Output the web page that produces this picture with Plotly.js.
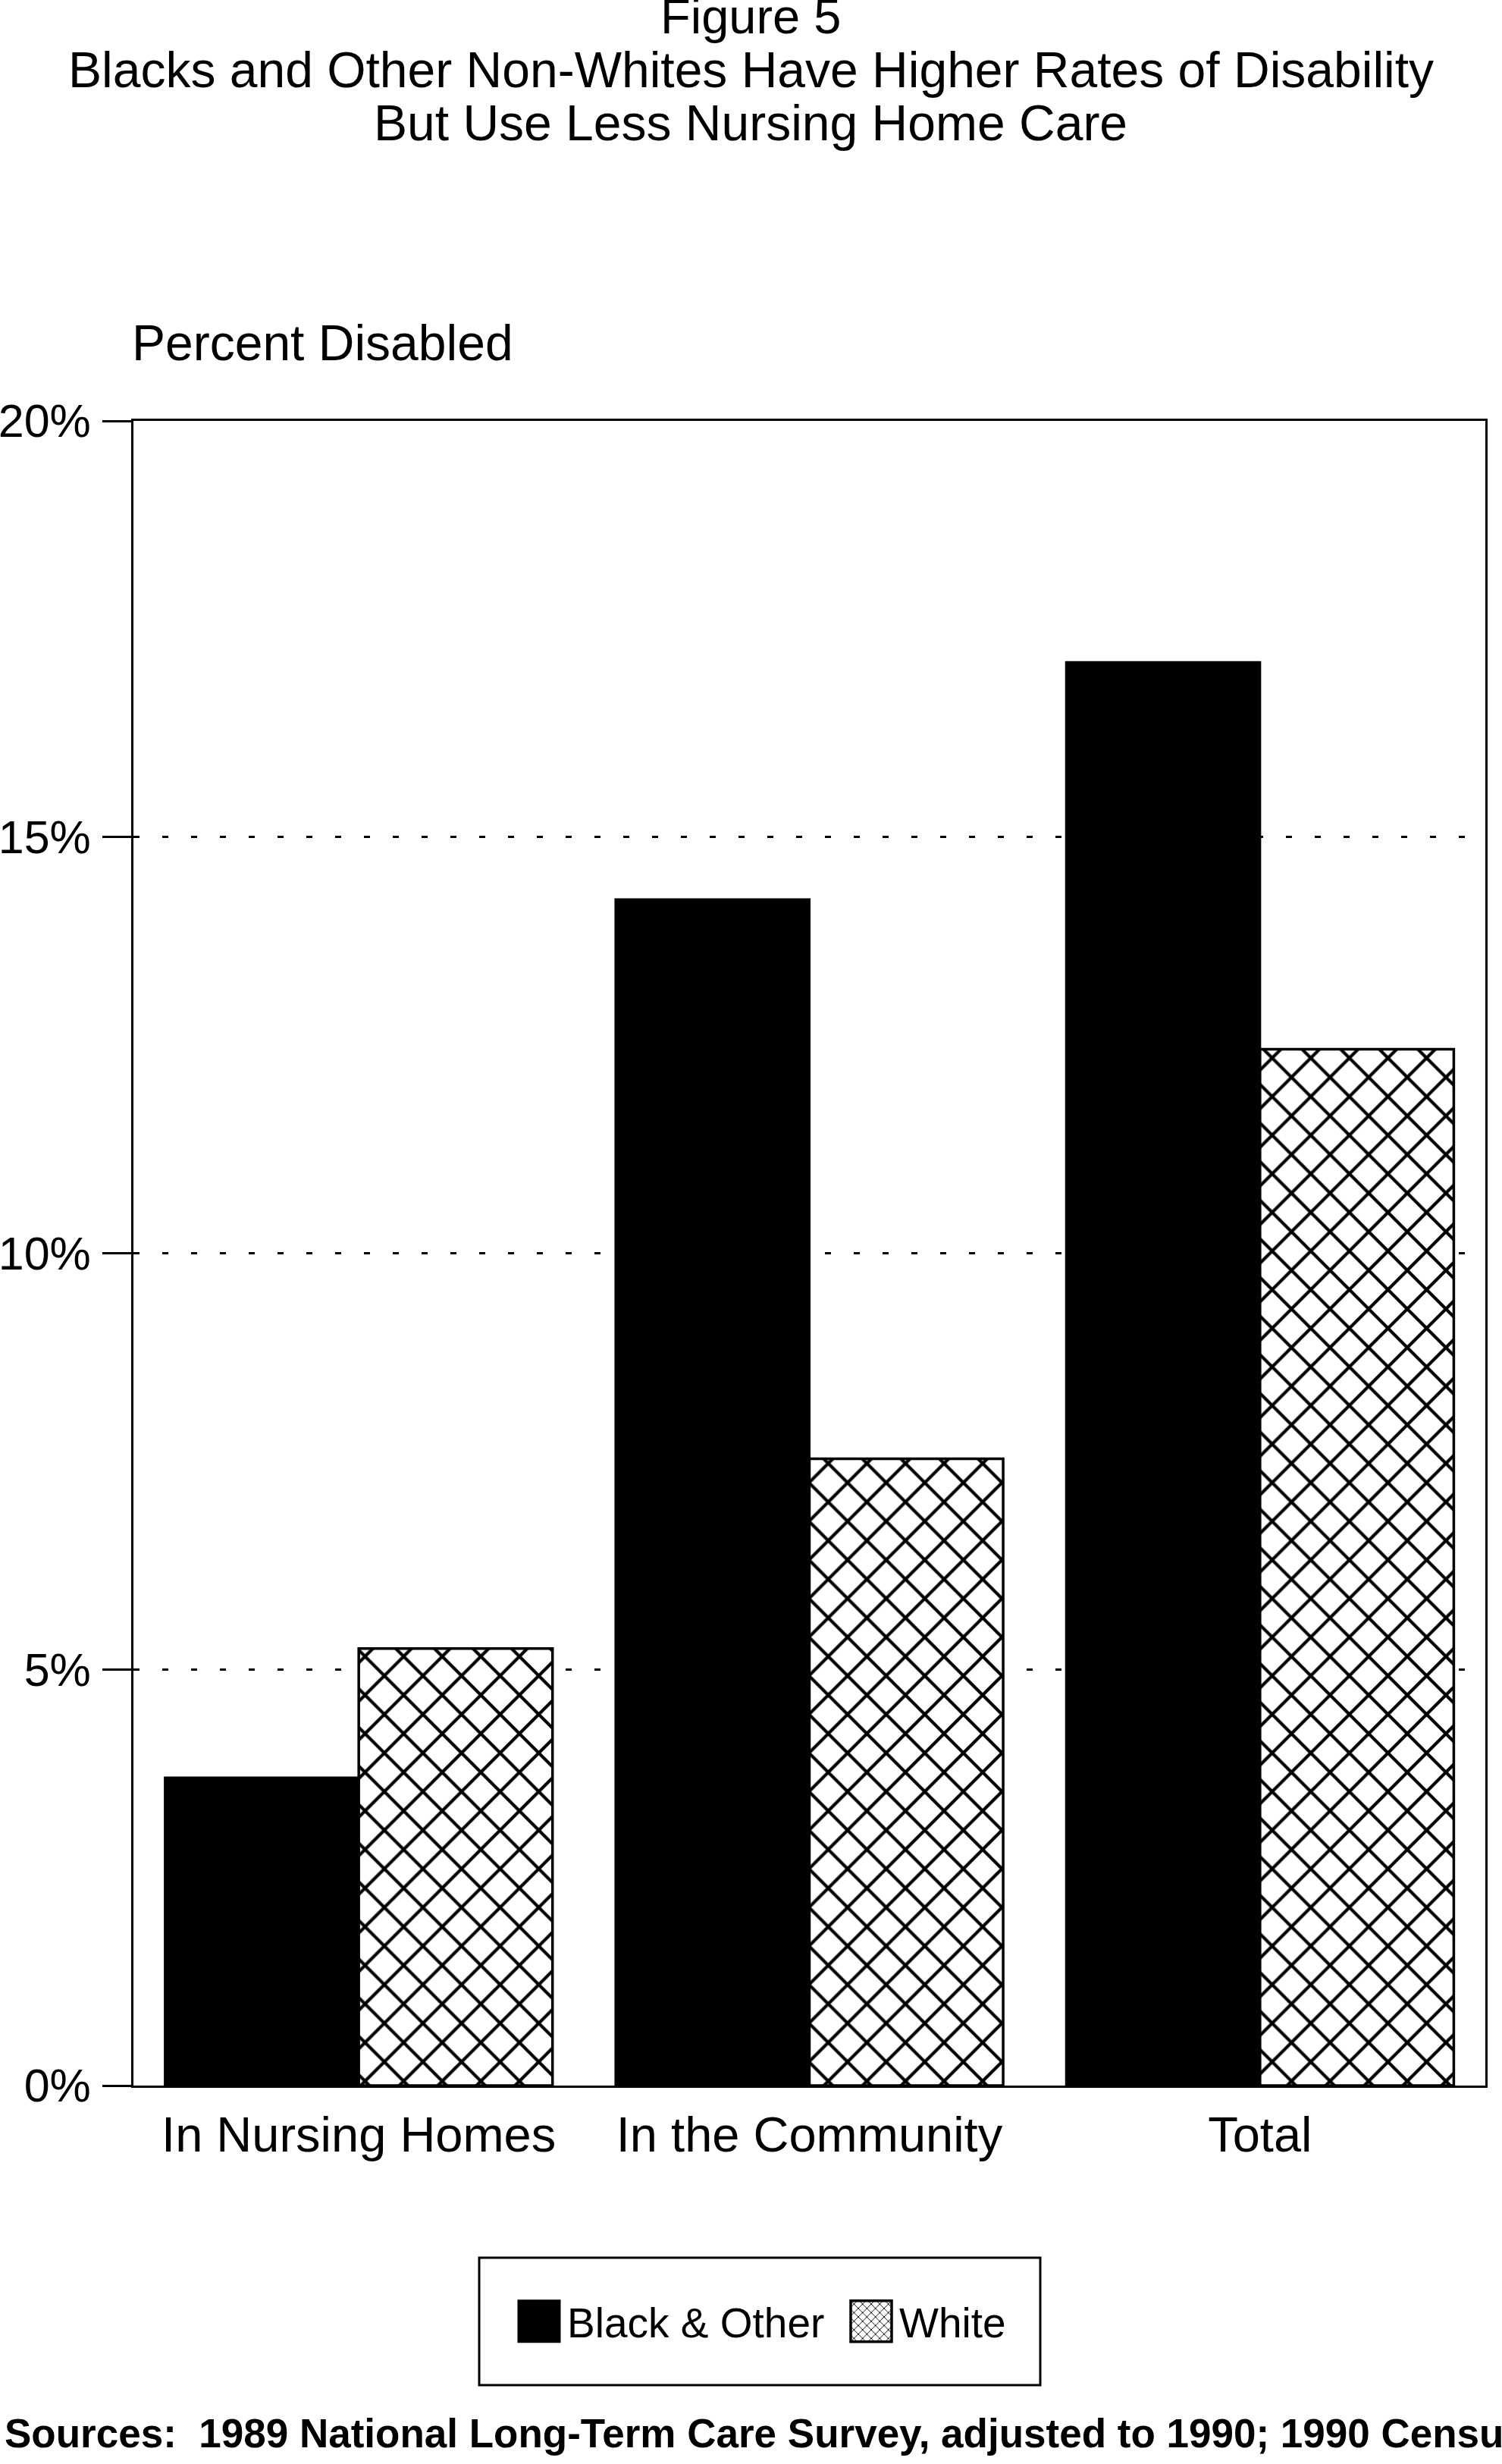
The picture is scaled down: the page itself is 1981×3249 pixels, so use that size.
<!DOCTYPE html>
<html><head><meta charset="utf-8">
<script src="https://cdn.plot.ly/plotly-3.0.1.min.js"></script>
<style>html,body{margin:0;padding:0;background:#fff;}</style>
</head><body><div id="chart" style="width:1981px;height:3249px;"></div>
<script>
const categories = ['In Nursing Homes', 'In the Community', 'Total'];
const blackOther = [3.7, 14.25, 17.1];
const white = [5.25, 7.53, 12.45];
const seriesNames = ['Black & Other', 'White'];
const yTickVals = [0, 5, 10, 15, 20];
const yTickText = ['0%', '5%', '10%', '15%', '20%'];
const titleLines = ['Figure 5', 'Blacks and Other Non-Whites Have Higher Rates of Disability', 'But Use Less Nursing Home Care'];
const yAxisLabel = 'Percent Disabled';
const sourceNote = 'Sources:\u00a0 1989 National Long-Term Care Survey, adjusted to 1990; 1990 Census';

const W = 1981, H = 3249;
const M = {l: 176, r: 22, t: 555, b: 499};
const px2x = X => (X - M.l) / (W - M.l - M.r);
const px2y = Y => (H - M.b - Y) / (H - M.t - M.b);
const FONT = 'Liberation Sans, Arial, sans-serif';

const traces = [
  {
    type: 'bar', name: seriesNames[0], x: categories, y: blackOther,
    marker: {color: '#000', line: {color: '#000', width: 3}},
    hoverinfo: 'skip'
  },
  {
    type: 'bar', name: seriesNames[1], x: categories, y: white,
    marker: {
      color: '#fff', line: {color: '#000', width: 3.5},
      pattern: {shape: 'x', fgcolor: '#000', bgcolor: '#fff', size: 36, solidity: 0.22}
    },
    hoverinfo: 'skip'
  }
];

const titleY = [21, 92, 162];
const titleSize = [65, 66, 66];
const annotations = titleLines.map((t, i) => ({
  text: t, xref: 'paper', yref: 'paper', x: px2x(990), y: px2y(titleY[i]),
  xanchor: 'center', yanchor: 'middle', showarrow: false,
  font: {family: FONT, size: titleSize[i], color: '#000'}
}));
annotations.push({
  text: yAxisLabel, xref: 'paper', yref: 'paper', x: px2x(172), y: px2y(452),
  xanchor: 'left', yanchor: 'middle', showarrow: false,
  font: {family: FONT, size: 66, color: '#000'}
});
annotations.push({
  text: sourceNote, xref: 'paper', yref: 'paper', x: px2x(4), y: px2y(3208),
  xanchor: 'left', yanchor: 'middle', showarrow: false,
  font: {family: FONT, size: 53, color: '#000', weight: 'bold'}
});

const layout = {
  width: W, height: H, autosize: false,
  margin: M,
  paper_bgcolor: '#fff', plot_bgcolor: '#fff',
  font: {family: FONT, color: '#000'},
  showlegend: true,
  barmode: 'group', bargap: 0.14, bargroupgap: 0,
  xaxis: {
    type: 'category', range: [-0.5, 2.5],
    showline: true, linecolor: '#000', linewidth: 3, mirror: true,
    ticks: '', showgrid: false, zeroline: false,
    tickfont: {family: FONT, size: 65, color: '#000'},
    ticklabelstandoff: 6
  },
  yaxis: {
    range: [0, 20], tickvals: yTickVals, ticktext: yTickText,
    showline: true, linecolor: '#000', linewidth: 3, mirror: true,
    ticks: 'outside', ticklen: 38, tickwidth: 3, tickcolor: '#000',
    showgrid: true, gridcolor: '#000', gridwidth: 3, griddash: '8px,30px',
    zeroline: false,
    tickfont: {family: FONT, size: 61, color: '#000'},
    ticklabelstandoff: 3
  },
  legend: {
    orientation: 'h', xref: 'paper', yref: 'paper',
    x: px2x(674), y: px2y(3061), xanchor: 'left', yanchor: 'middle',
    font: {family: FONT, size: 55, color: '#000'},
    itemwidth: 64, entrywidth: 359, entrywidthmode: 'pixels',
    bgcolor: 'rgba(0,0,0,0)', borderwidth: 0,
    itemclick: false, itemdoubleclick: false
  },
  shapes: [{
    type: 'rect', xref: 'paper', yref: 'paper',
    x0: px2x(632), x1: px2x(1372), y0: px2y(2977), y1: px2y(3145),
    line: {color: '#000', width: 3}, fillcolor: 'rgba(0,0,0,0)'
  }],
  annotations: annotations
};

function enlargeLegendSymbols() {
  document.querySelectorAll('.legend .legendpoints path').forEach(p => {
    p.setAttribute('d', 'M27,27H-27V-27H27Z');
  });
}

Plotly.newPlot('chart', traces, layout, {displayModeBar: false, staticPlot: true}).then(gd => {
  enlargeLegendSymbols();
  gd.on('plotly_afterplot', enlargeLegendSymbols);
});
</script>
</body></html>
